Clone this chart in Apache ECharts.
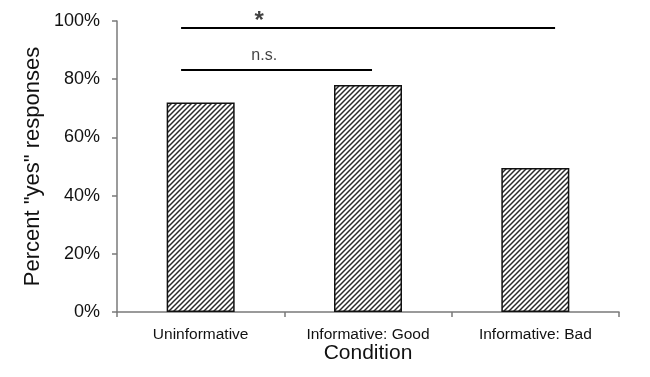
<!DOCTYPE html>
<html>
<head>
<meta charset="utf-8">
<script src="https://cdn.jsdelivr.net/npm/echarts@6/dist/echarts.min.js"></script>
<style>
  html, body { margin: 0; padding: 0; background: #fff; }
  #chart { width: 650px; height: 377px; }
</style>
</head>
<body>
<div id="chart"></div>
<script>
// Share of "yes" responses per condition
const categories = ['Uninformative', 'Informative: Good', 'Informative: Bad'];
const percentYes = [72, 78, 49.5];

// Significance brackets: label, span along the category axis (0..3), height in %
const sigLabels = ['*', 'n.s.'];
const sigSpans = [[0.383, 2.618], [0.383, 1.524]];
const sigLevels = [97.6, 83.2];
const sigLabelPos = [0.85, 0.88];

// Diagonal hatch tile for the bars
function hatchTile() {
  const s = 5;
  const c = document.createElement('canvas');
  c.width = s; c.height = s;
  const g = c.getContext('2d');
  g.fillStyle = '#ffffff';
  g.fillRect(0, 0, s, s);
  g.strokeStyle = '#2a2a2a';
  g.lineWidth = 1.5;
  g.beginPath();
  g.moveTo(0, s); g.lineTo(s, 0);
  g.moveTo(-1, 1); g.lineTo(1, -1);
  g.moveTo(s - 1, s + 1); g.lineTo(s + 1, s - 1);
  g.stroke();
  return c;
}

const font = 'Liberation Sans, Arial, Helvetica, sans-serif';
const chart = echarts.init(document.getElementById('chart'), null, { renderer: 'canvas' });

const bracketSeries = sigSpans.map((span, i) => ({
  type: 'line',
  xAxisIndex: 1,
  data: [[span[0], sigLevels[i]], [span[1], sigLevels[i]]],
  symbol: 'none',
  silent: true,
  clip: false,
  lineStyle: { color: '#000', width: 2 }
}));

const labelSeries = {
  type: 'scatter',
  xAxisIndex: 1,
  symbolSize: 0,
  clip: false,
  silent: true,
  data: sigLabels.map((t, i) => ({ value: [sigLabelPos[i], sigLevels[i]], name: t })),
  label: {
    show: true,
    position: 'top',
    formatter: p => p.name,
    color: '#111',
    fontFamily: font
  }
};
labelSeries.data[0].label = { fontSize: 24, fontWeight: 'bold', distance: -5 };
labelSeries.data[1].label = { fontSize: 16, distance: 6 };

chart.setOption({
  animation: false,
  grid: { left: 117, right: 31, top: 21, bottom: 65, containLabel: false },
  xAxis: [{
    type: 'category',
    data: categories,
    name: 'Condition',
    nameLocation: 'middle',
    nameGap: 31,
    nameMoveOverlap: false,
    nameTextStyle: { fontFamily: font, fontSize: 21, color: '#111' },
    axisLine: { lineStyle: { color: '#7a7a7a', width: 1.5 } },
    axisTick: { show: true, length: 5, lineStyle: { color: '#7a7a7a', width: 1.5 } },
    axisLabel: { interval: 0, fontFamily: font, fontSize: 15.5, color: '#111', margin: 15 }
  }, {
    type: 'value',
    min: 0, max: 3,
    show: false
  }],
  yAxis: {
    type: 'value',
    min: 0, max: 100, interval: 20,
    name: 'Percent "yes" responses',
    nameLocation: 'middle',
    nameGap: 73,
    nameMoveOverlap: false,
    nameRotate: 90,
    nameTextStyle: { fontFamily: font, fontSize: 22, color: '#111' },
    axisLine: { show: true, lineStyle: { color: '#7a7a7a', width: 1.5 } },
    axisTick: { show: true, length: 5, lineStyle: { color: '#7a7a7a', width: 1.5 } },
    axisLabel: { formatter: '{value}%', fontFamily: font, fontSize: 18, color: '#111', margin: 17 },
    splitLine: { show: false }
  },
  series: [{
    type: 'bar',
    data: percentYes,
    barWidth: 68,
    itemStyle: {
      color: { image: hatchTile(), repeat: 'repeat' },
      borderColor: '#111',
      borderWidth: 1.5
    }
  }, ...bracketSeries, labelSeries]
});
</script>
</body>
</html>
